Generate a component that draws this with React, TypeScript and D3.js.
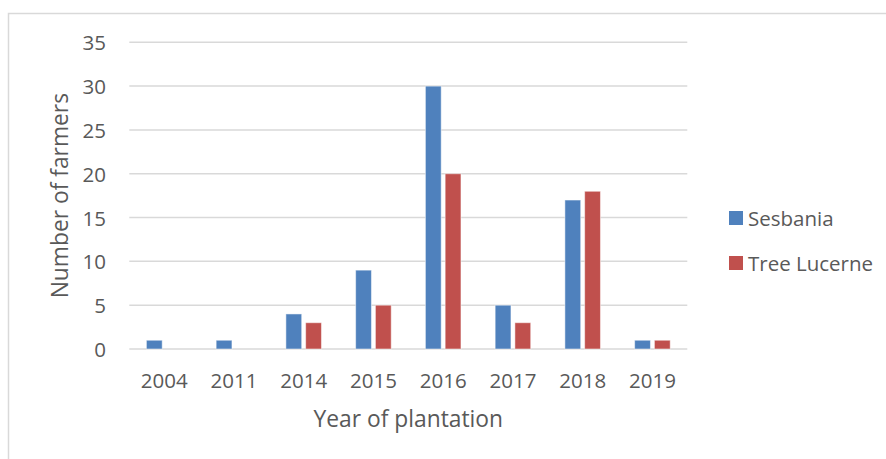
import React from "react";
import * as d3 from "d3";

const years = ["2004", "2011", "2014", "2015", "2016", "2017", "2018", "2019"];
const sesbania = [1, 1, 4, 9, 30, 5, 17, 1];
const treeLucerne = [0, 0, 3, 5, 20, 3, 18, 1];
const seriesNames = ["Sesbania", "Tree Lucerne"];
const seriesColors = ["#4f81bd", "#c0504d"];
const yTicks = [0, 5, 10, 15, 20, 25, 30, 35];

const W = 886;
const H = 459;
const plot = { left: 129.3, right: 687.3, top: 42.3, bottom: 349 };
const FONT = "'Open Sans', sans-serif";
const TXT = "#595959";

export default function App() {
  const series = [sesbania, treeLucerne];
  const x0 = d3
    .scaleBand<string>()
    .domain(years)
    .range([plot.left, plot.right])
    .paddingInner(0.49)
    .paddingOuter(0.245);
  const x1 = d3
    .scaleBand<number>()
    .domain([0, 1])
    .range([0, x0.bandwidth()])
    .paddingInner(0.2)
    .paddingOuter(0);
  const y = d3.scaleLinear().domain([0, 35]).range([plot.bottom, plot.top]);

  return (
    <svg
      width={W}
      height={H}
      style={{ position: "absolute", left: 0, top: 0, background: "#fff" }}
    >
      <rect x={8.5} y={13.5} width={1000} height={600} fill="#fff" stroke="#d9d9d9" strokeWidth={1.5} />
      {yTicks.map((t) => (
        <g key={t}>
          <line
            x1={plot.left}
            x2={plot.right}
            y1={y(t)}
            y2={y(t)}
            stroke="#d9d9d9"
            strokeWidth={1.5}
          />
          <text
            x={106}
            y={y(t)}
            textAnchor="end"
            dominantBaseline="central"
            fontFamily={FONT}
            fontSize={20.5}
            fill={TXT}
          >
            {t}
          </text>
        </g>
      ))}
      {years.map((yr, i) => (
        <g key={yr}>
          {series.map((s, k) =>
            s[i] > 0 ? (
              <rect
                key={k}
                x={(x0(yr) as number) + (x1(k) as number)}
                y={y(s[i])}
                width={x1.bandwidth()}
                height={plot.bottom - y(s[i])}
                fill={seriesColors[k]}
                stroke="#ffffff"
                strokeOpacity={0.5}
                strokeWidth={1}
              />
            ) : null
          )}
          <text
            x={(x0(yr) as number) + x0.bandwidth() / 2}
            y={380}
            textAnchor="middle"
            dominantBaseline="central"
            fontFamily={FONT}
            fontSize={20.5}
            fill={TXT}
          >
            {yr}
          </text>
        </g>
      ))}
      <text
        x={(plot.left + plot.right) / 2}
        y={418.5}
        textAnchor="middle"
        dominantBaseline="central"
        fontFamily={FONT}
        fontSize={22.8}
        fill={TXT}
      >
        Year of plantation
      </text>
      <text
        transform={`translate(59, ${(plot.top + plot.bottom) / 2 + 0}) rotate(-90)`}
        textAnchor="middle"
        dominantBaseline="central"
        fontFamily={FONT}
        fontSize={22.8}
        fill={TXT}
      >
        Number of farmers
      </text>
      {seriesNames.map((n, k) => (
        <g key={n} transform={`translate(729, ${218 + k * 45})`}>
          <rect x={0} y={-7} width={14} height={14} fill={seriesColors[k]} />
          <text
            x={19}
            y={0}
            dominantBaseline="central"
            fontFamily={FONT}
            fontSize={20.5}
            fill={TXT}
          >
            {n}
          </text>
        </g>
      ))}
    </svg>
  );
}
